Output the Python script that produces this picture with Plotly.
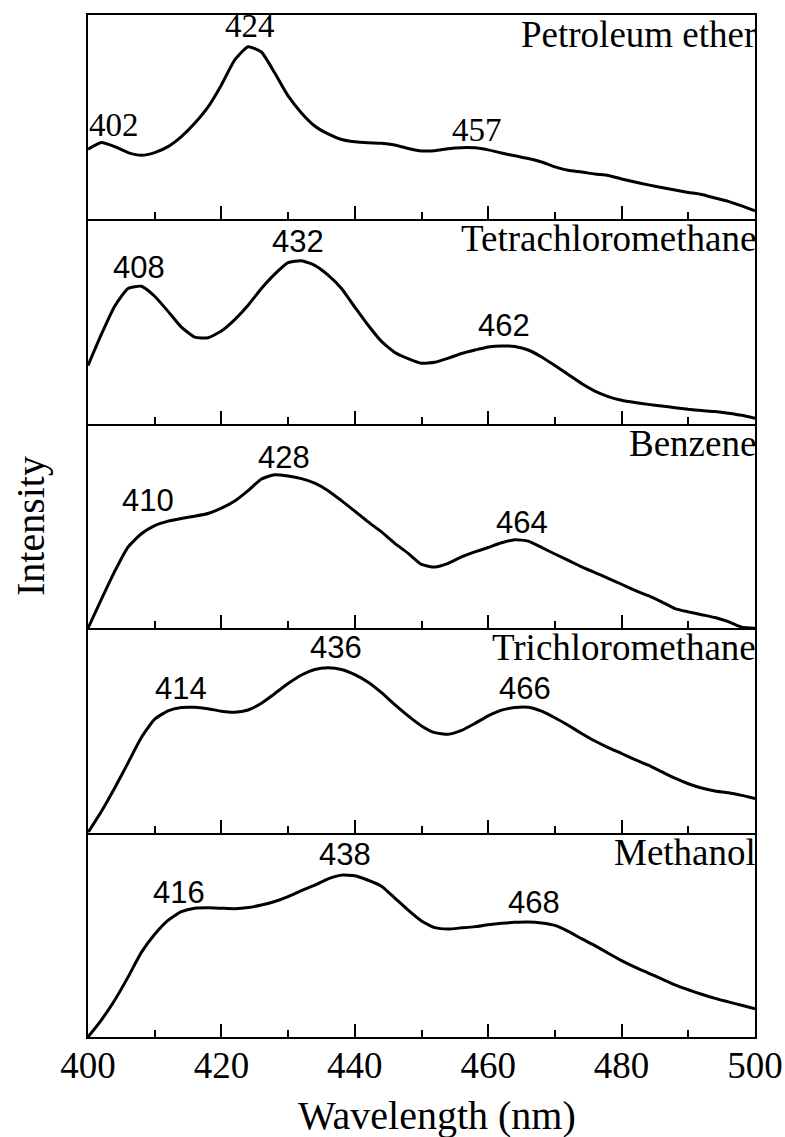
import plotly.graph_objects as go
from plotly.subplots import make_subplots

# Emission wavelength grid (nm)
wavelength = list(range(400, 502, 2))

# Normalised fluorescence intensity per solvent (a.u.)
petroleum_ether = [0.343, 0.376, 0.356, 0.327, 0.314, 0.327, 0.356, 0.405, 0.470, 0.550,
                   0.658, 0.780, 0.845, 0.819, 0.716, 0.604, 0.521, 0.457, 0.418, 0.391,
                   0.380, 0.375, 0.373, 0.364, 0.347, 0.335, 0.336, 0.346, 0.351, 0.350,
                   0.340, 0.325, 0.311, 0.298, 0.281, 0.257, 0.240, 0.232, 0.222, 0.215,
                   0.198, 0.183, 0.169, 0.156, 0.144, 0.132, 0.122, 0.105, 0.088, 0.066,
                   0.042]
tetrachloromethane = [0.285, 0.437, 0.575, 0.662, 0.673, 0.624, 0.550, 0.473, 0.424, 0.421,
                      0.454, 0.510, 0.580, 0.662, 0.732, 0.788, 0.798, 0.775, 0.727, 0.662,
                      0.571, 0.482, 0.403, 0.349, 0.319, 0.296, 0.301, 0.321, 0.344, 0.361,
                      0.376, 0.381, 0.378, 0.361, 0.327, 0.285, 0.241, 0.197, 0.160, 0.133,
                      0.115, 0.104, 0.095, 0.087, 0.079, 0.071, 0.065, 0.060, 0.052, 0.042,
                      0.027]
benzene = [0.000, 0.141, 0.278, 0.397, 0.462, 0.502, 0.524, 0.537, 0.548, 0.561,
           0.587, 0.622, 0.673, 0.730, 0.751, 0.745, 0.732, 0.710, 0.673, 0.624,
           0.573, 0.520, 0.471, 0.415, 0.366, 0.312, 0.299, 0.317, 0.349, 0.373,
           0.395, 0.418, 0.433, 0.426, 0.395, 0.363, 0.332, 0.300, 0.272, 0.244,
           0.215, 0.185, 0.159, 0.129, 0.096, 0.080, 0.066, 0.052, 0.032, 0.005,
           0.000]
trichloromethane = [0.000, 0.103, 0.218, 0.341, 0.465, 0.555, 0.596, 0.612, 0.613, 0.606,
                    0.594, 0.589, 0.600, 0.633, 0.680, 0.729, 0.771, 0.798, 0.806, 0.798,
                    0.773, 0.736, 0.685, 0.626, 0.571, 0.522, 0.489, 0.481, 0.500, 0.534,
                    0.571, 0.599, 0.612, 0.613, 0.594, 0.562, 0.525, 0.485, 0.448, 0.416,
                    0.387, 0.357, 0.330, 0.298, 0.266, 0.239, 0.218, 0.204, 0.195, 0.182,
                    0.167]
methanol = [0.000, 0.083, 0.180, 0.293, 0.414, 0.503, 0.571, 0.613, 0.630, 0.632,
            0.630, 0.628, 0.633, 0.646, 0.663, 0.687, 0.716, 0.743, 0.774, 0.792,
            0.789, 0.767, 0.738, 0.680, 0.621, 0.568, 0.535, 0.528, 0.534, 0.540,
            0.549, 0.556, 0.561, 0.563, 0.558, 0.546, 0.517, 0.481, 0.447, 0.410,
            0.374, 0.342, 0.313, 0.284, 0.255, 0.231, 0.209, 0.189, 0.172, 0.155,
            0.138]

solvents = ["Petroleum ether", "Tetrachloromethane", "Benzene", "Trichloromethane", "Methanol"]
spectra = [petroleum_ether, tetrachloromethane, benzene, trichloromethane, methanol]

# Peak maxima (nm) marked in each panel
peak_nm = [[402, 424, 457], [408, 432, 462], [410, 428, 464], [414, 436, 466], [416, 438, 468]]
# Where each peak label sits (wavelength, intensity)
peak_label_x = [[403.9, 424.3, 458.3], [407.7, 431.5, 462.3], [409.0, 429.4, 465.1],
                [414.0, 437.2, 465.5], [413.7, 438.5, 466.8]]
peak_label_y = [[0.405, 0.886, 0.380], [0.706, 0.837, 0.424], [0.567, 0.779, 0.462],
                [0.649, 0.851, 0.649], [0.652, 0.838, 0.600]]

x_ticks = [400, 420, 440, 460, 480, 500]

SERIF = "Liberation Serif, Times New Roman, serif"
SANS = "Liberation Sans, Arial, sans-serif"

fig = make_subplots(rows=5, cols=1, shared_xaxes=True, vertical_spacing=0)


def ax(kind, i):
    return kind if i == 1 else f"{kind}{i}"


for i, (name, ys) in enumerate(zip(solvents, spectra), start=1):
    fig.add_trace(go.Scatter(x=wavelength, y=ys, mode="lines", name=name,
                             line=dict(color="black", width=3, shape="spline", smoothing=0.5),
                             showlegend=False), row=i, col=1)
    # solvent name, top-right corner of the panel
    fig.add_annotation(text=name, xref=ax("x", i) + " domain", yref=ax("y", i) + " domain",
                       x=1, y=1, xanchor="right", yanchor="top", showarrow=False,
                       xshift=3, yshift=3,
                       font=dict(family=SERIF, size=37, color="black"))
    label_font = SERIF if i == 1 else SANS
    label_size = 33 if i == 1 else 31
    for nm, lx, ly in zip(peak_nm[i - 1], peak_label_x[i - 1], peak_label_y[i - 1]):
        fig.add_annotation(text=str(nm), x=lx, y=ly, xref=ax("x", i), yref=ax("y", i),
                           xanchor="center", yanchor="bottom", yshift=-8, showarrow=False,
                           font=dict(family=label_font, size=label_size, color="black"))

fig.update_xaxes(range=[400, 500], showline=True, linecolor="black", linewidth=2, mirror=False,
                 ticks="inside", ticklen=13, tickwidth=2, tickcolor="black",
                 tickvals=x_ticks, showgrid=False, zeroline=False, automargin=False,
                 minor=dict(ticks="inside", ticklen=7, tickwidth=2, tickcolor="black",
                            dtick=10, tick0=400, showgrid=False),
                 tickfont=dict(family=SERIF, size=37, color="black"))
# only the top panel needs a frame line along its upper edge
fig.update_xaxes(mirror=True, row=1, col=1)
fig.update_xaxes(ticklabelstandoff=-5, row=5, col=1)
fig.update_yaxes(range=[0, 1], showline=True, linecolor="black", linewidth=2, mirror=True,
                 ticks="", showticklabels=False, showgrid=False, zeroline=False, automargin=False)

# axis titles
fig.add_annotation(text="Wavelength (nm)", xref="paper", yref="paper", x=0.5, y=0,
                   xanchor="center", yanchor="top", xshift=15, yshift=-54, showarrow=False,
                   font=dict(family=SERIF, size=40, color="black"))
fig.add_annotation(text="Intensity", xref="paper", yref="paper", x=0, y=0.5,
                   xanchor="center", yanchor="middle", xshift=-58, textangle=-90, showarrow=False,
                   font=dict(family=SERIF, size=40, color="black"))

fig.update_layout(width=785, height=1137, margin=dict(l=88, r=30, t=15, b=100, autoexpand=False),
                  plot_bgcolor="white", paper_bgcolor="white")

fig.write_html("out.html")
